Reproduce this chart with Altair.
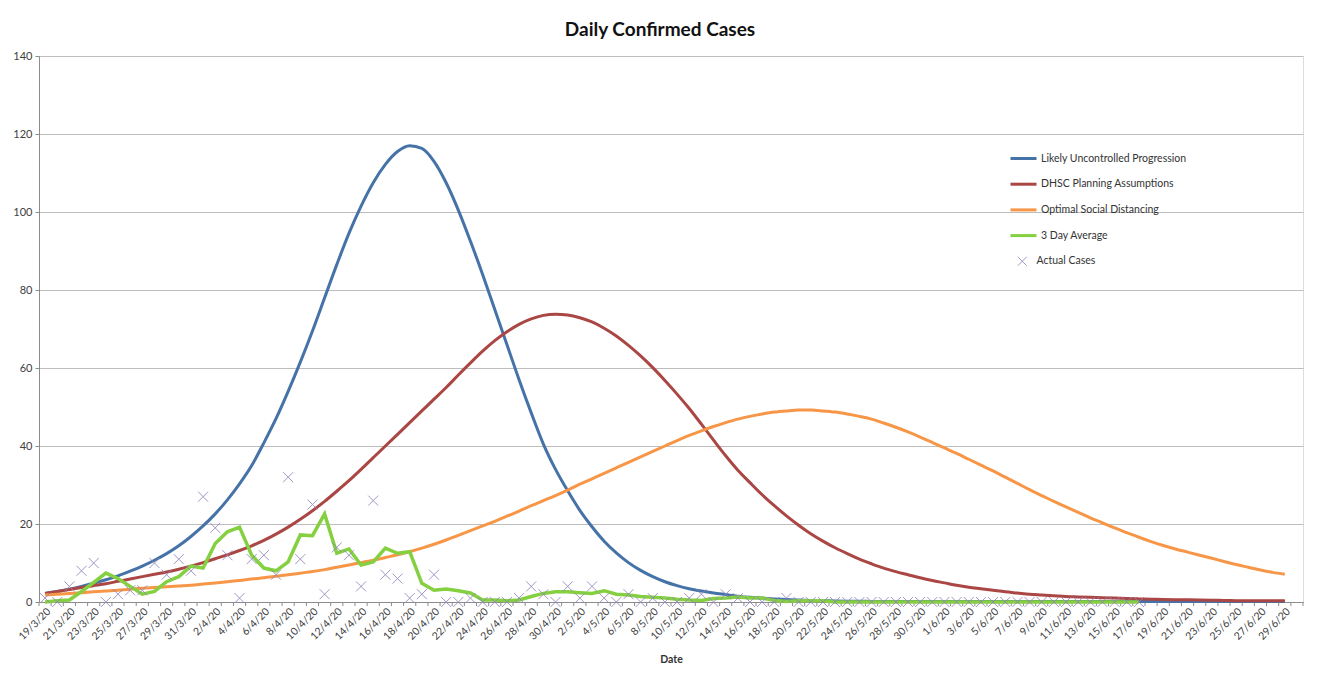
import datetime as dt
import altair as alt
import pandas as pd

# ---------------- data ----------------
start = dt.date(2020, 3, 19)
n_days = 103
date_labels = [f"{(start + dt.timedelta(days=i)).day}/{(start + dt.timedelta(days=i)).month}/20"
               for i in range(n_days)]

likely_uncontrolled = [
    2.2, 2.7, 3.3, 4.0, 4.8, 5.7, 6.7, 7.9, 9.2, 10.7,
    12.4, 14.4, 16.8, 19.5, 22.6, 26.2, 30.3, 35.0, 40.8, 47.0,
    54.0, 61.5, 69.5, 78.0, 86.5, 94.5, 101.5, 107.5, 112.2, 115.5,
    117.0, 116.3, 113.0, 107.5, 100.5, 92.5, 84.0, 75.0, 66.0, 57.0,
    48.5, 40.5, 34.0, 28.5, 23.5, 19.3, 15.6, 12.6, 10.1, 8.1,
    6.5, 5.2, 4.2, 3.4, 2.8, 2.3, 1.9, 1.5, 1.2, 1.0,
    0.8, 0.65, 0.5, 0.4, 0.33, 0.27, 0.22, 0.18, 0.15, 0.12,
    0.1, 0.1, 0.1, 0.1, 0.1, 0.1, 0.1, 0.1, 0.1, 0.1,
    0.1, 0.1, 0.1, 0.1, 0.1, 0.1, 0.1, 0.1, 0.1, 0.1,
    0.1, 0.1, 0.1, 0.1, 0.1, 0.1, 0.1, 0.1, 0.1, 0.1,
    0.1, 0.1, 0.1,
]

dhsc_planning = [
    2.2, 2.7, 3.2, 3.7, 4.2, 4.7, 5.3, 5.9, 6.5, 7.1,
    7.7, 8.4, 9.2, 10.1, 11.1, 12.1, 13.2, 14.4, 15.8, 17.4,
    19.2, 21.2, 23.4, 25.8, 28.4, 31.1, 34.0, 37.0, 40.0, 43.0,
    46.0, 49.0, 52.0, 55.0, 58.2, 61.3, 64.3, 67.0, 69.3, 71.2,
    72.6, 73.5, 73.8, 73.6, 72.9, 71.8, 70.2, 68.2, 65.8, 63.1,
    60.1, 56.8, 53.3, 49.6, 45.6, 41.5, 37.5, 33.8, 30.6, 27.5,
    24.7, 22.1, 19.7, 17.5, 15.6, 13.9, 12.4, 11.0, 9.8, 8.7,
    7.8, 7.0, 6.2, 5.5, 4.9, 4.3, 3.8, 3.4, 3.0, 2.6,
    2.3, 2.0, 1.8, 1.6, 1.4, 1.3, 1.2, 1.1, 1.0, 0.9,
    0.8, 0.7, 0.65, 0.6, 0.55, 0.5, 0.45, 0.4, 0.35, 0.3,
    0.3, 0.3, 0.3,
]

optimal_distancing = [
    1.8, 2.0, 2.2, 2.4, 2.6, 2.8, 3.0, 3.3, 3.5, 3.7,
    3.9, 4.1, 4.3, 4.6, 4.9, 5.2, 5.5, 5.9, 6.2, 6.6,
    7.0, 7.4, 7.8, 8.3, 8.9, 9.5, 10.1, 10.7, 11.4, 12.1,
    12.9, 13.8, 14.8, 15.9, 17.1, 18.3, 19.5, 20.7, 22.0, 23.3,
    24.7, 26.0, 27.3, 28.7, 30.2, 31.6, 33.0, 34.4, 35.8, 37.2,
    38.6, 40.0, 41.4, 42.7, 43.9, 45.0, 46.0, 46.9, 47.6, 48.2,
    48.7, 49.0, 49.2, 49.2, 49.0, 48.7, 48.2, 47.6, 46.9, 45.9,
    44.8, 43.6, 42.3, 40.9, 39.5, 38.1, 36.6, 35.1, 33.6, 32.0,
    30.4, 28.8, 27.3, 25.8, 24.4, 23.0, 21.6, 20.3, 19.0, 17.8,
    16.6, 15.5, 14.5, 13.6, 12.8, 12.0, 11.2, 10.4, 9.6, 8.9,
    8.2, 7.6, 7.1,
]

three_day_average = [
    0.0, 0.3, 0.5, 2.7, 5.0, 7.4, 6.0, 4.0, 2.0, 2.7,
    5.2, 6.5, 9.2, 8.7, 15.0, 18.0, 19.2, 12.0, 8.7, 8.0,
    10.3, 17.2, 17.0, 22.6, 12.5, 13.6, 9.5, 10.3, 13.8, 12.5,
    12.9, 4.8, 3.0, 3.3, 2.9, 2.3, 0.5, 0.5, 0.3, 0.5,
    1.4, 2.2, 2.6, 2.6, 2.4, 2.2, 2.9, 2.0, 1.8, 1.4,
    1.2, 1.0, 0.7, 0.5, 0.4, 0.9, 1.0, 1.3, 1.0, 1.0,
    0.4, 0.1, 0.3, 0.3, 0.3, 0.0, 0.0, 0.0, 0.0, 0.0,
    0.0, 0.0, 0.0, 0.0, 0.0, 0.0, 0.0, 0.0, 0.0, 0.0,
    0.0, 0.0, 0.0, 0.0, 0.0, 0.0, 0.0, 0.0, 0.0, 0.0,
    0.0,
]

actual_cases = [
    1, 0, 4, 8, 10, 0, 2, 3, 3, 10,
    7, 11, 8, 27, 19, 12, 1, 11, 12, 7,
    32, 11, 25, 2, 14, 12, 4, 26, 7, 6,
    1, 2, 7, 0, 0, 1, 0, 0, 0, 1,
    4, 2, 0, 4, 1, 4, 1, 0, 2, 0,
    1, 0, 0, 1, 2, 0, 2, 1, 0, 0,
    0, 1, 0, 0, 0, 0, 0, 0, 0, 0,
    0, 0, 0, 0, 0, 0, 0, 0, 0, 0,
    0, 0, 0, 0, 0, 0, 0, 0, 0, 0,
    0,
]

series_names = ["Likely Uncontrolled Progression", "DHSC Planning Assumptions",
                "Optimal Social Distancing", "3 Day Average"]
series_colors = ["#4572A7", "#AA4643", "#F79646", "#84D040"]
y_ticks = [0, 20, 40, 60, 80, 100, 120, 140]

# ---------------- tables ----------------
model_rows = []
for name, vals in zip(series_names[:3], [likely_uncontrolled, dhsc_planning, optimal_distancing]):
    for d, v in enumerate(vals):
        model_rows.append({"day": d, "value": v, "series": name})
model_df = pd.DataFrame(model_rows)

avg_df = pd.DataFrame({"day": list(range(len(three_day_average))),
                       "value": three_day_average,
                       "series": series_names[3]})
pts_df = pd.DataFrame({"day": list(range(len(actual_cases))),
                       "value": actual_cases,
                       "kind": "Actual Cases"})
bound_df = pd.DataFrame({"day": [i - 0.5 for i in range(n_days + 2)]})

W, H = 1264, 546
FONT = "Lato"
label_js = "[" + ",".join("'" + s + "'" for s in date_labels) + "]"

x_scale = alt.Scale(domain=[-0.5, n_days + 0.5], nice=False, zero=False)
y_scale = alt.Scale(domain=[0, 140], nice=False)

x_axis = alt.Axis(values=list(range(0, n_days, 2)), labelExpr=label_js + "[datum.value]",
                  labelAngle=-45, labelFontSize=10.5, labelColor="#404040", labelFont=FONT,
                  labelOverlap=False, labelBound=False, labelPadding=4,
                  ticks=False, grid=False, domainColor="#8c8c8c",
                  title="Date", titleFontSize=10.5, titleFont=FONT, titleFontWeight="bold",
                  titleColor="#333333", titlePadding=13)
y_axis = alt.Axis(values=y_ticks, grid=True, gridColor="#bdbdbd", gridWidth=1,
                  domainColor="#8c8c8c", tickColor="#8c8c8c", tickSize=4,
                  labelFontSize=11, labelColor="#404040", labelFont=FONT,
                  labelPadding=3, title=None)

X = alt.X("day:Q", scale=x_scale, axis=x_axis)
Y = alt.Y("value:Q", scale=y_scale, axis=y_axis)

color_scale = alt.Scale(domain=series_names, range=series_colors)
line_legend = alt.Legend(orient="none", legendX=970, legendY=88, title=None,
                         symbolType="stroke", symbolStrokeWidth=3, symbolSize=676,
                         labelFontSize=10.5, labelFont=FONT, labelColor="#333333",
                         rowPadding=4.7, padding=0, labelOffset=3)

ticks = alt.Chart(bound_df).mark_rule(color="#8c8c8c", strokeWidth=1).encode(
    x=X, y=alt.value(H), y2=alt.value(H + 4),
)

models = alt.Chart(model_df).mark_line(strokeWidth=3, interpolate="monotone").encode(
    x=X, y=Y,
    color=alt.Color("series:N", scale=color_scale, legend=line_legend),
    detail="series:N",
)

avg = alt.Chart(avg_df).mark_line(strokeWidth=3.5).encode(
    x=X, y=Y,
    color=alt.Color("series:N", scale=color_scale, legend=line_legend),
)

xpath = "M-1,-1L1,1M-1,1L1,-1"
points = alt.Chart(pts_df).mark_point(size=100, strokeWidth=1, filled=False,
                                      color="#9384bd", opacity=0.85).encode(
    x=X, y=Y,
    shape=alt.Shape("kind:N", scale=alt.Scale(domain=["Actual Cases"], range=[xpath]),
                    legend=alt.Legend(orient="none", legendX=978, legendY=200, title=None,
                                      symbolSize=81, symbolStrokeColor="#9384bd",
                                      symbolStrokeWidth=1, symbolFillColor="transparent",
                                      labelFontSize=10.5, labelFont=FONT, labelColor="#333333",
                                      padding=0, labelOffset=9)),
)

chart = alt.layer(ticks, models, avg, points).resolve_scale(
    color="shared", shape="independent"
).properties(
    width=W, height=H,
    title=alt.TitleParams("Daily Confirmed Cases", fontSize=19, font=FONT, fontWeight="bold",
                          color="#111111", anchor="middle", offset=10, dx=-11),
    autosize=alt.AutoSizeParams(type="none"),
    padding={"left": 31, "top": 48, "right": 5, "bottom": 80},
).configure_view(stroke="#9a9a9a", strokeWidth=1).configure_axisX(
    labelOverlap=False
).configure(background="white")

chart.save("out.html", embed_options={"renderer": "svg", "actions": False})
